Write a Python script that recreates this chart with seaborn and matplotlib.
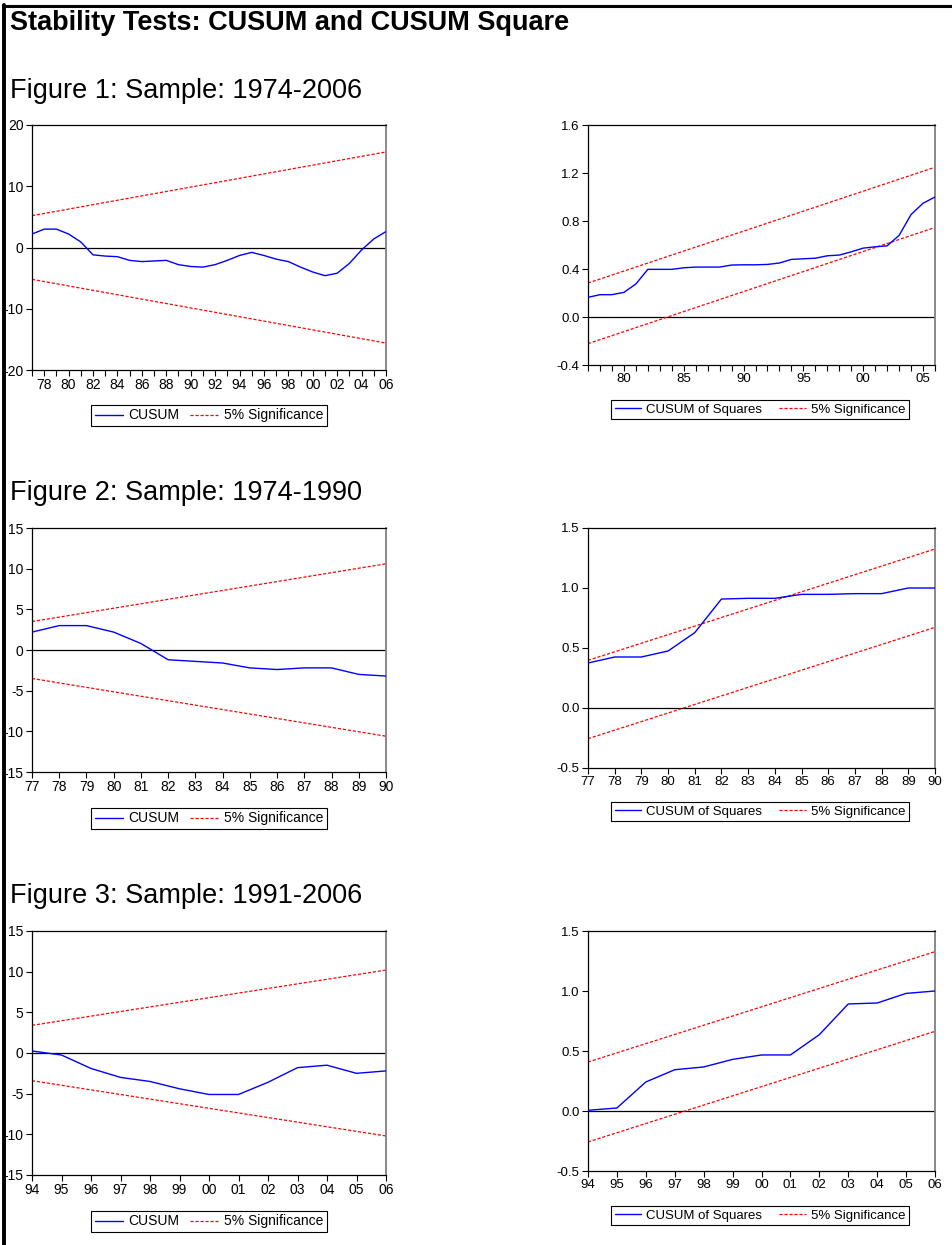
import numpy as np
import pandas as pd
import matplotlib
matplotlib.use("Agg")
import matplotlib.pyplot as plt
from matplotlib.lines import Line2D
import seaborn as sns

# ---------------- data ----------------
# Figure 1 : sample 1974-2006
f1_years = list(range(1977, 2007))
f1_cusum = [2.2, 3.0, 3.0, 2.2, 0.9, -1.2, -1.4, -1.5, -2.1, -2.3, -2.2, -2.1, -2.8, -3.1, -3.2,
            -2.8, -2.1, -1.3, -0.8, -1.3, -1.9, -2.3, -3.2, -4.0, -4.6, -4.2, -2.6, -0.4, 1.4, 2.6]
f1_sig_years = [1977, 2006]
f1_cusum_upper = [5.2, 15.6]
f1_cusum_lower = [-5.2, -15.6]
f1_cusq = [0.164, 0.186, 0.186, 0.205, 0.275, 0.397, 0.397, 0.397, 0.41, 0.416, 0.416, 0.416, 0.433,
           0.435, 0.435, 0.438, 0.45, 0.48, 0.485, 0.49, 0.51, 0.516, 0.543, 0.574, 0.585, 0.593,
           0.68, 0.854, 0.948, 1.0]
f1_cusq_upper = [0.283, 1.248]
f1_cusq_lower = [-0.222, 0.746]

# Figure 2 : sample 1974-1990
f2_years = list(range(1977, 1991))
f2_cusum = [2.2, 3.0, 3.0, 2.2, 0.8, -1.2, -1.4, -1.6, -2.2, -2.4, -2.2, -2.2, -3.0, -3.2]
f2_sig_years = [1977, 1990]
f2_cusum_upper = [3.5, 10.6]
f2_cusum_lower = [-3.5, -10.6]
f2_cusq = [0.375, 0.425, 0.425, 0.475, 0.628, 0.908, 0.914, 0.914, 0.947, 0.947, 0.953, 0.953, 1.0, 1.0]
f2_cusq_upper = [0.397, 1.325]
f2_cusq_lower = [-0.256, 0.672]

# Figure 3 : sample 1991-2006
f3_years = list(range(1994, 2007))
f3_cusum = [0.25, -0.25, -1.9, -3.0, -3.5, -4.4, -5.1, -5.1, -3.6, -1.8, -1.5, -2.5, -2.2]
f3_sig_years = [1994, 2006]
f3_cusum_upper = [3.4, 10.2]
f3_cusum_lower = [-3.4, -10.2]
f3_cusq = [0.006, 0.025, 0.242, 0.344, 0.367, 0.43, 0.467, 0.467, 0.636, 0.892, 0.9, 0.98, 1.0]
f3_cusq_upper = [0.408, 1.328]
f3_cusq_lower = [-0.258, 0.664]

main_title = "Stability Tests: CUSUM and CUSUM Square"
section_titles = ["Figure 1: Sample: 1974-2006", "Figure 2: Sample: 1974-1990", "Figure 3: Sample: 1991-2006"]
cusum_label = "CUSUM"
cusq_label = "CUSUM of Squares"
sig_label = "5% Significance"

# ---------------- style ----------------
sns.set_theme(style="ticks")
plt.rcParams["font.family"] = ["Liberation Sans", "DejaVu Sans"]
plt.rcParams["axes.linewidth"] = 0.9
plt.rcParams["text.color"] = "black"

W, H = 953, 1245
fig = plt.figure(figsize=(W / 100, H / 100), dpi=100)
fig.patch.set_facecolor("white")


def ax_px(l, t, r, b):
    return fig.add_axes([l / W, 1 - b / H, (r - l) / W, (b - t) / H])


BLUE = "#0000FF"
RED = "#FF0000"


def style_axes(ax, xlim, ylim, yticks, ylabfmt, xticks, xlabels, fs):
    ax.set_xlim(*xlim)
    ax.set_ylim(*ylim)
    ax.set_yticks(yticks)
    ax.set_yticklabels([ylabfmt(v) for v in yticks], fontsize=fs)
    ax.set_xticks(xticks)
    ax.set_xticklabels(xlabels, fontsize=fs)
    ax.tick_params(direction="out", length=4, width=0.8, color="black", pad=2, labelcolor="black")
    ax.set_xlabel("")
    ax.set_ylabel("")
    for s in ["left", "bottom", "top"]:
        ax.spines[s].set_visible(True)
        ax.spines[s].set_color("black")
        ax.spines[s].set_linewidth(0.9)
    ax.spines["right"].set_visible(True)
    ax.spines["right"].set_color("#808080")
    ax.spines["right"].set_linewidth(1.3)
    ax.grid(False)
    ax.axhline(0, color="black", lw=0.9, zorder=1)


def draw_panel(ax, years, vals, sig_years, up, lo, label):
    sns.lineplot(x=years, y=vals, ax=ax, color=BLUE, lw=1.0, label=label, zorder=3)
    sns.lineplot(x=sig_years, y=up, ax=ax, color=RED, lw=0.9, linestyle=(0, (2.5, 1.5)),
                 label=sig_label, zorder=2)
    sns.lineplot(x=sig_years, y=lo, ax=ax, color=RED, lw=0.9, linestyle=(0, (2.5, 1.5)), zorder=2)


def add_legend(ax, cx, top, colsp, fs):
    h, l = ax.get_legend_handles_labels()
    leg = ax.legend(h[:2], l[:2], ncol=2, loc="upper center",
                    bbox_to_anchor=(cx / W, 1 - top / H), bbox_transform=fig.transFigure,
                    fontsize=fs, handlelength=2.0, handletextpad=0.4, columnspacing=colsp,
                    borderpad=0.25, borderaxespad=0, frameon=True, fancybox=False,
                    edgecolor="black", framealpha=1)
    leg.get_frame().set_linewidth(0.8)


def yl_int(v):
    return f"{int(v)}"


def yl_1(v):
    return f"{v:.1f}"


left_boxes = [(32, 125, 386, 370), (32, 528, 386, 772), (32, 931, 386, 1175)]
right_boxes = [(588, 125, 935, 365), (588, 528, 935, 768), (588, 931, 935, 1171)]
legend_tops_left = [405, 808, 1211]
legend_tops_right = [400, 802, 1206]

data_sets = [
    (f1_years, f1_cusum, f1_sig_years, f1_cusum_upper, f1_cusum_lower,
     f1_cusq, f1_cusq_upper, f1_cusq_lower),
    (f2_years, f2_cusum, f2_sig_years, f2_cusum_upper, f2_cusum_lower,
     f2_cusq, f2_cusq_upper, f2_cusq_lower),
    (f3_years, f3_cusum, f3_sig_years, f3_cusum_upper, f3_cusum_lower,
     f3_cusq, f3_cusq_upper, f3_cusq_lower),
]
cusum_ylims = [(-20, 20), (-15, 15), (-15, 15)]
cusum_yticks = [[-20, -10, 0, 10, 20], [-15, -10, -5, 0, 5, 10, 15], [-15, -10, -5, 0, 5, 10, 15]]
cusq_ylims = [(-0.4, 1.6), (-0.5, 1.5), (-0.5, 1.5)]
cusq_yticks = [[-0.4, 0.0, 0.4, 0.8, 1.2, 1.6], [-0.5, 0.0, 0.5, 1.0, 1.5], [-0.5, 0.0, 0.5, 1.0, 1.5]]

for i, (yrs, cs, sy, cu, cl, cq, qu, ql) in enumerate(data_sets):
    # CUSUM panel
    ax = ax_px(*left_boxes[i])
    draw_panel(ax, yrs, cs, sy, cu, cl, cusum_label)
    if i == 0:
        xlabels = [f"{y % 100:02d}" if (y % 2 == 0) else "" for y in yrs]
    else:
        xlabels = [f"{y % 100:02d}" for y in yrs]
    style_axes(ax, (yrs[0], yrs[-1]), cusum_ylims[i], cusum_yticks[i], yl_int, yrs, xlabels, 10)
    add_legend(ax, 209, legend_tops_left[i], 0.8, 10)

    # CUSUM of squares panel
    ax2 = ax_px(*right_boxes[i])
    draw_panel(ax2, yrs, cq, sy, qu, ql, cusq_label)
    if i == 0:
        xlabels2 = [f"{y % 100:02d}" if (y % 5 == 0) else "" for y in yrs]
    else:
        xlabels2 = [f"{y % 100:02d}" for y in yrs]
    style_axes(ax2, (yrs[0], yrs[-1]), cusq_ylims[i], cusq_yticks[i], yl_1, yrs, xlabels2, 9.5)
    add_legend(ax2, 760, legend_tops_right[i], 1.3, 9.5)

# ---------------- texts ----------------
fig.text(10 / W, 1 - 23 / H, main_title, fontsize=19.5, fontweight="bold", va="center", ha="left")
for t, yc in zip(section_titles, [91, 493, 896]):
    fig.text(10 / W, 1 - yc / H, t, fontsize=19.5, va="center", ha="left")

# page border (top and left rules)
fig.add_artist(Line2D([3 / W, 1.0], [1 - 6 / H, 1 - 6 / H], transform=fig.transFigure,
                      color="black", lw=2.2))
fig.add_artist(Line2D([4 / W, 4 / W], [1 - 5 / H, 0.0], transform=fig.transFigure,
                      color="black", lw=2.8))

fig.savefig("out.png", dpi=100, facecolor="white")
